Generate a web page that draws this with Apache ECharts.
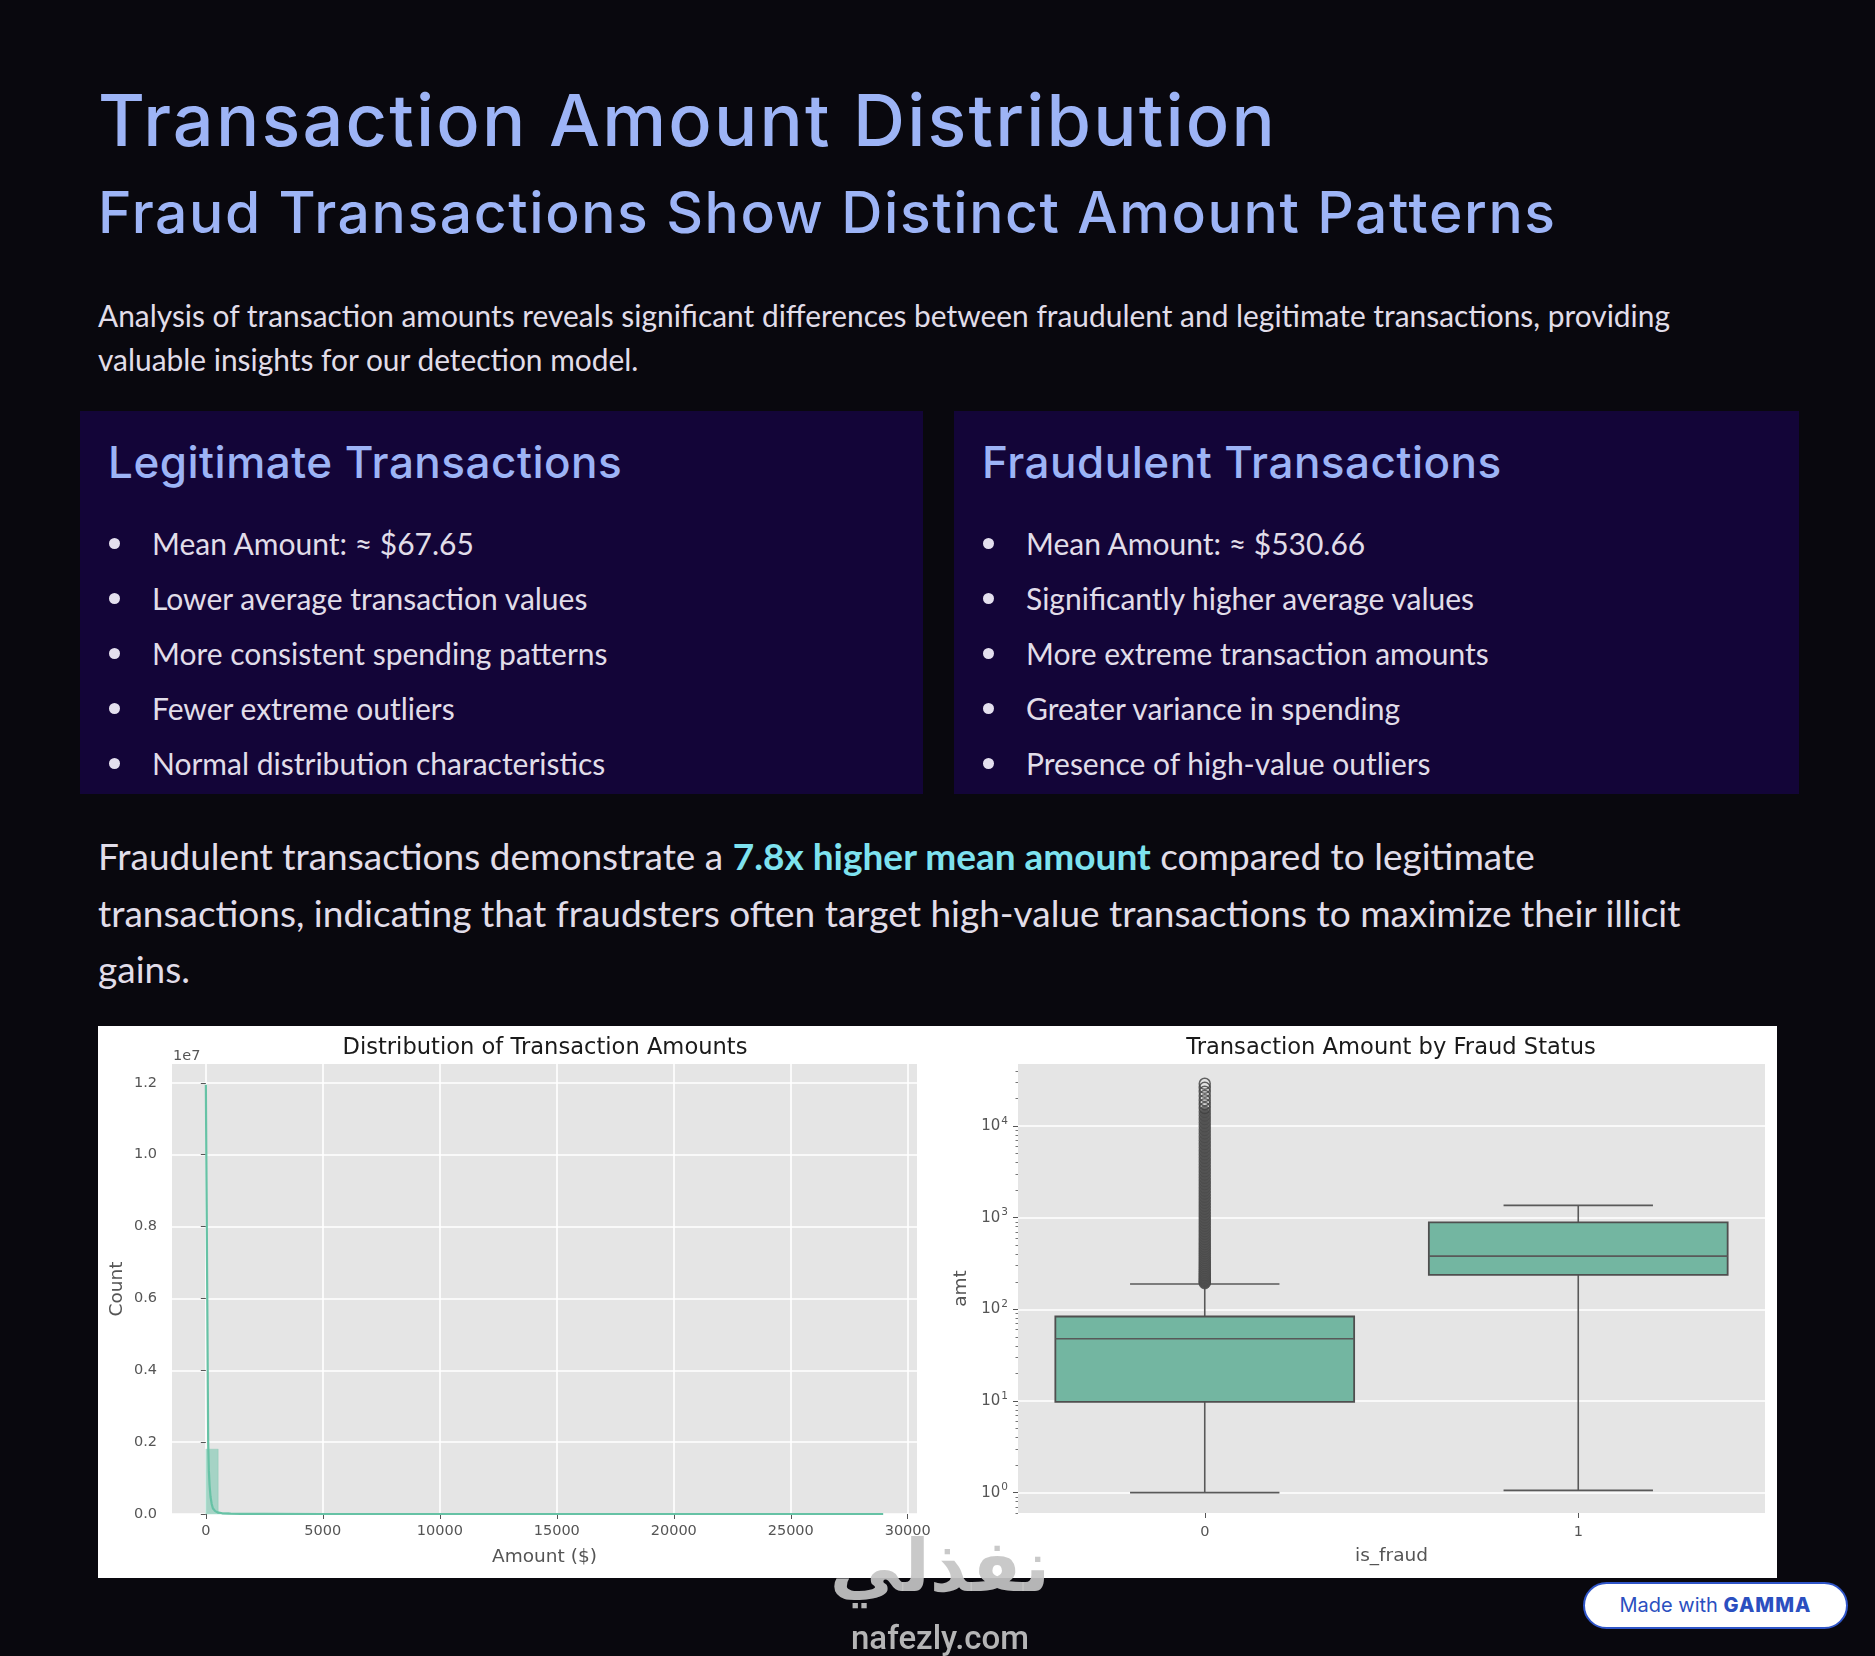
<!DOCTYPE html>
<html>
<head>
<meta charset="utf-8">
<title>Transaction Amount Distribution</title>
<script src="https://cdn.jsdelivr.net/npm/echarts@6/dist/echarts.min.js"></script>
<style>
    html, body { margin: 0; padding: 0; background: #09080e; }
    body { width: 1875px; height: 1656px; position: relative; overflow: hidden;
           font-family: Lato, "Noto Sans", sans-serif; color: #e1dde9; }
    .h1 { position: absolute; left: 98px; top: 80px; font-family: Inter, sans-serif; font-weight: 500;
          font-size: 72px; line-height: 80px; letter-spacing: 2.2px; color: #9db4f6; white-space: nowrap; }
    .h2 { position: absolute; left: 98px; top: 181px; font-family: Inter, sans-serif; font-weight: 500;
          font-size: 57px; line-height: 64px; letter-spacing: 1.6px; color: #9db4f6; white-space: nowrap; }
    .intro { position: absolute; left: 98px; top: 293px; width: 1640px; font-size: 29.9px; line-height: 44px; }
    .card { position: absolute; top: 411px; height: 383px; background: #130538; }
    .card h3 { position: absolute; left: 28px; top: 23px; margin: 0; font-family: Inter, sans-serif; font-weight: 500;
               font-size: 44px; line-height: 56px; letter-spacing: 0.5px; color: #9db4f6; white-space: nowrap; }
    .card ul { position: absolute; left: 0; top: 105px; margin: 0; padding: 0; list-style: none; }
    .card li { position: relative; padding-left: 72px; font-size: 30px; line-height: 55px; white-space: nowrap; }
    .card li:before { content: ""; position: absolute; left: 29px; top: 22px; width: 11px; height: 11px;
                      border-radius: 50%; background: #e4e0ee; }
    .summary { position: absolute; left: 98px; top: 828px; width: 1650px; font-size: 37px; line-height: 56.5px; }
    .summary b { color: #7ee2ef; font-weight: 700; }
    #chart { position: absolute; left: 98px; top: 1026px; width: 1679px; height: 552px;
             background: #ffffff; border-radius: 3px; }
    .badge { position: absolute; left: 1583px; top: 1582px; width: 261px; height: 43px; border: 2px solid #2f55c8;
             border-radius: 24px; background: #ffffff; text-align: center; line-height: 43px;
             font-family: Inter, sans-serif; font-size: 20px; color: #2b4fc0; }
    .badge b { font-weight: 800; letter-spacing: 1px; }
    .mark { position: absolute; left: 780px; width: 320px; text-align: center; color: rgba(196,196,196,0.92); }
    .mark.ar { top: 1524px; font-family: "DejaVu Sans", sans-serif; font-weight: bold; font-size: 72px; line-height: 84px; }
    .mark.en { top: 1618px; font-family: Roboto, sans-serif; font-weight: 500; font-size: 33px; line-height: 40px; }
</style>
</head>
<body>
<div class="h1">Transaction Amount Distribution</div>
<div class="h2">Fraud Transactions Show Distinct Amount Patterns</div>
<div class="intro">Analysis of transaction amounts reveals significant differences between fraudulent and legitimate transactions, providing valuable insights for our detection model.</div>

<div class="card" style="left:80px; width:843px;">
    <h3>Legitimate Transactions</h3>
    <ul>
        <li>Mean Amount: ≈ $67.65</li>
        <li>Lower average transaction values</li>
        <li>More consistent spending patterns</li>
        <li>Fewer extreme outliers</li>
        <li>Normal distribution characteristics</li>
    </ul>
</div>
<div class="card" style="left:954px; width:845px;">
    <h3>Fraudulent Transactions</h3>
    <ul>
        <li>Mean Amount: ≈ $530.66</li>
        <li>Significantly higher average values</li>
        <li>More extreme transaction amounts</li>
        <li>Greater variance in spending</li>
        <li>Presence of high-value outliers</li>
    </ul>
</div>

<div class="summary">Fraudulent transactions demonstrate a <b>7.8x higher mean amount</b> compared to legitimate transactions, indicating that fraudsters often target high-value transactions to maximize their illicit gains.</div>

<div id="chart"></div>

<div class="mark ar">نفذلي</div>
<div class="mark en">nafezly.com</div>
<div class="badge">Made with <b>GAMMA</b></div>

<script>
    // histogram: amount range and counts per bin (55 equal bins)
    var amtMin = 1;
    var amtMax = 28949;
    var histCounts = [1805000, 36000, 6400, 2100, 900, 460, 280, 180, 130, 95, 75, 60, 48, 40, 33,
        28, 24, 20, 18, 16, 14, 12, 11, 10, 9, 8, 7, 7, 6, 6, 5, 5, 4, 4, 4, 3, 3, 3, 3, 2,
        2, 2, 2, 2, 2, 1, 1, 1, 1, 1, 1, 1, 1, 1, 1];
    // kde curve
    var kdeAmt   = [1, 20, 40, 60, 80, 100, 130, 160, 200, 250, 300, 400, 500, 700, 1000, 1500, 2500, 5000, 10000, 20000, 28949];
    var kdeCount = [11950000, 10100000, 8200000, 6100000, 4000000, 2000000, 1200000, 800000, 480000, 280000,
        160000, 80000, 45000, 20000, 9000, 4000, 1500, 500, 150, 40, 10];
    var histXTicks = [0, 5000, 10000, 15000, 20000, 25000, 30000];
    var histYTicks = [0, 2000000, 4000000, 6000000, 8000000, 10000000, 12000000];

    // boxplot by is_fraud
    var fraudClasses = ['0', '1'];
    var boxMin    = [1.0, 1.06];
    var boxQ1     = [9.8, 238];
    var boxMedian = [47.7, 381];
    var boxQ3     = [83.6, 891];
    var boxMax    = [189, 1364];
    var legitOutliers = [193, 198, 204, 211, 219, 228, 237, 247, 258, 270, 283, 297, 312, 328, 346, 365,
        386, 408, 432, 458, 486, 517, 550, 586, 625, 668, 714, 764, 818, 877, 941, 1010, 1085, 1167,
        1256, 1352, 1457, 1572, 1697, 1834, 1983, 2146, 2325, 2520, 2733, 2967, 3222, 3502, 3809, 4145,
        4513, 4917, 5360, 5846, 6380, 6966, 7610, 8318, 9096, 9950, 10890, 11920, 13050, 14300, 15700,
        17300, 19100, 21200, 23600, 26100, 28900];
    var logTicks = [1, 10, 100, 1000, 10000];

    var logMinorTicks = [];
    for (var e = -1; e <= 4; e++) {
        for (var m = 2; m <= 9; m++) {
            var t = m * Math.pow(10, e);
            if (t > 0.6 && t < 47500) logMinorTicks.push(+t.toPrecision(2));
        }
    }

    var binW = (amtMax - amtMin) / histCounts.length;
    var histData = histCounts.map(function (c, i) {
        return [amtMin + i * binW, amtMin + (i + 1) * binW, c];
    });
    var kdeData = kdeAmt.map(function (a, i) { return [a, kdeCount[i]]; });
    var boxData = fraudClasses.map(function (c, i) {
        return [i, boxMin[i], boxQ1[i], boxMedian[i], boxQ3[i], boxMax[i]];
    });
    // dense part of the flier column reads as solid, the sparse top as rings
    var denseOutliers = legitOutliers.filter(function (v) { return v < 15000; }).map(function (v) { return [0, v]; });
    var sparseOutliers = legitOutliers.filter(function (v) { return v >= 15000; }).map(function (v) { return [0, v]; });

    var FONT = 'DejaVu Sans';
    var tickLabel = { color: '#555555', fontFamily: FONT, fontSize: 14.5 };
    var nameStyle = { color: '#555555', fontFamily: FONT, fontSize: 18.5 };
    var tickStyle = { show: true, length: 5, lineStyle: { color: '#555555', width: 1 } };
    var gridLine = { show: true, lineStyle: { color: '#ffffff', width: 1.6 } };

    var chart = echarts.init(document.getElementById('chart'));
    chart.setOption({
        animation: false,
        backgroundColor: '#ffffff',
        grid: [
            { left: 74, top: 38, width: 745, height: 450, show: true, backgroundColor: '#e5e5e5', borderWidth: 0 },
            { left: 920, top: 38, width: 747, height: 449, show: true, backgroundColor: '#e5e5e5', borderWidth: 0 }
        ],
        graphic: [
            { type: 'text', x: 447, y: 22,
              style: { text: 'Distribution of Transaction Amounts', fill: '#1a1a1a', font: '22.6px "DejaVu Sans"',
                       align: 'center', verticalAlign: 'middle' } },
            { type: 'text', x: 1293, y: 22,
              style: { text: 'Transaction Amount by Fraud Status', fill: '#1a1a1a', font: '22.6px "DejaVu Sans"',
                       align: 'center', verticalAlign: 'middle' } },
            { type: 'text', x: 75, y: 30,
              style: { text: '1e7', fill: '#555555', font: '14.5px "DejaVu Sans"', verticalAlign: 'middle' } }
        ],
        xAxis: [
            { type: 'value', gridIndex: 0, min: -1446, max: 30396,
              name: 'Amount ($)', nameLocation: 'middle', nameGap: 34, nameTextStyle: nameStyle,
              axisLine: { show: false },
              axisTick: Object.assign({ customValues: histXTicks }, tickStyle),
              axisLabel: Object.assign({ customValues: histXTicks, margin: 10,
                  formatter: function (v) { return String(v); } }, tickLabel),
              splitLine: gridLine },
            { type: 'category', gridIndex: 1, data: fraudClasses,
              name: 'is_fraud', nameLocation: 'middle', nameGap: 34, nameTextStyle: nameStyle,
              axisLine: { show: false },
              axisTick: Object.assign({ alignWithLabel: true }, tickStyle),
              axisLabel: Object.assign({ margin: 12 }, tickLabel),
              splitLine: { show: false } }
        ],
        yAxis: [
            { type: 'value', gridIndex: 0, min: 0, max: 12525000,
              name: 'Count', nameLocation: 'middle', nameGap: 45, nameTextStyle: nameStyle,
              axisLine: { show: false },
              axisTick: Object.assign({ customValues: histYTicks }, tickStyle),
              axisLabel: Object.assign({ customValues: histYTicks, margin: 15,
                  formatter: function (v) { return (v / 1e7).toFixed(1); } }, tickLabel),
              splitLine: gridLine },
            { type: 'log', gridIndex: 1, logBase: 10, min: 0.6, max: 47500, position: 'left',
              name: 'amt', nameLocation: 'middle', nameGap: 47, nameTextStyle: nameStyle,
              axisLine: { show: false },
              axisTick: Object.assign({ customValues: logTicks }, tickStyle),
              axisLabel: Object.assign({ customValues: logTicks, margin: 10,
                  formatter: function (v) {
                      var p = logTicks.indexOf(Math.round(v));
                      return p < 0 ? '' : '10{sup|' + p + '}';
                  },
                  rich: {
                      sup: { fontFamily: FONT, fontSize: 10.5, color: '#555555', padding: [0, 0, 10, 1] }
                  } }, tickLabel, { fontSize: 15 }),
              splitLine: gridLine },
            { type: 'log', gridIndex: 1, logBase: 10, min: 0.6, max: 47500, position: 'left',
              axisLine: { show: false },
              axisTick: { show: true, length: 2.5, customValues: logMinorTicks, lineStyle: { color: '#777777', width: 1 } },
              axisLabel: { show: false },
              splitLine: { show: false } }
        ],
        series: [
            {
                type: 'custom', name: 'hist', xAxisIndex: 0, yAxisIndex: 0,
                data: histData, encode: { x: [0, 1], y: 2 },
                renderItem: function (params, api) {
                    var p0 = api.coord([api.value(0), 0]);
                    var p1 = api.coord([api.value(1), api.value(2)]);
                    return {
                        type: 'rect',
                        shape: { x: p0[0], y: p1[1], width: p1[0] - p0[0], height: p0[1] - p1[1] },
                        style: { fill: 'rgba(102,194,165,0.5)', stroke: 'rgba(102,194,165,0.35)', lineWidth: 0.8 }
                    };
                }
            },
            {
                type: 'line', name: 'kde', xAxisIndex: 0, yAxisIndex: 0,
                data: kdeData, showSymbol: false, symbol: 'none', z: 3,
                lineStyle: { color: '#66c2a5', width: 2.2 }
            },
            {
                type: 'custom', name: 'box', xAxisIndex: 1, yAxisIndex: 1,
                data: boxData, encode: { x: 0, y: [1, 2, 3, 4, 5] }, z: 3,
                renderItem: function (params, api) {
                    var x = api.value(0);
                    var lo = api.coord([x, api.value(1)]);
                    var q1 = api.coord([x, api.value(2)]);
                    var md = api.coord([x, api.value(3)]);
                    var q3 = api.coord([x, api.value(4)]);
                    var hi = api.coord([x, api.value(5)]);
                    var band = api.size([1, 1])[0];
                    var bw = band * 0.8, cw = band * 0.4, cx = lo[0];
                    var ln = { stroke: '#595959', lineWidth: 1.6 };
                    return {
                        type: 'group',
                        children: [
                            { type: 'line', shape: { x1: cx, y1: lo[1], x2: cx, y2: q1[1] }, style: ln },
                            { type: 'line', shape: { x1: cx, y1: q3[1], x2: cx, y2: hi[1] }, style: ln },
                            { type: 'line', shape: { x1: cx - cw / 2, y1: lo[1], x2: cx + cw / 2, y2: lo[1] }, style: ln },
                            { type: 'line', shape: { x1: cx - cw / 2, y1: hi[1], x2: cx + cw / 2, y2: hi[1] }, style: ln },
                            { type: 'rect', shape: { x: cx - bw / 2, y: q3[1], width: bw, height: q1[1] - q3[1] },
                              style: { fill: '#73b6a1', stroke: '#4f4f4f', lineWidth: 1.8 } },
                            { type: 'line', shape: { x1: cx - bw / 2, y1: md[1], x2: cx + bw / 2, y2: md[1] }, style: ln }
                        ]
                    };
                }
            },
            {
                type: 'scatter', name: 'outliers', xAxisIndex: 1, yAxisIndex: 1,
                data: denseOutliers, symbol: 'circle', symbolSize: 11.5, z: 4,
                itemStyle: { color: '#525252', borderColor: '#4a4a4a', borderWidth: 1 }
            },
            {
                type: 'scatter', name: 'outliers top', xAxisIndex: 1, yAxisIndex: 1,
                data: sparseOutliers, symbol: 'circle', symbolSize: 11, z: 4,
                itemStyle: { color: 'rgba(0,0,0,0)', borderColor: '#404040', borderWidth: 1.5 }
            }
        ]
    });
</script>
</body>
</html>
